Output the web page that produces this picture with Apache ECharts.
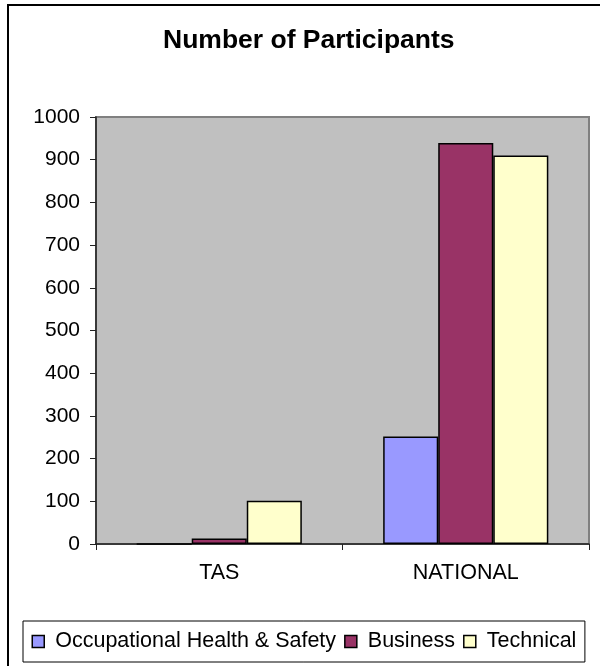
<!DOCTYPE html>
<html>
<head>
<meta charset="utf-8">
<script src="https://cdn.jsdelivr.net/npm/echarts@6/dist/echarts.min.js"></script>
<style>
  html, body { margin: 0; padding: 0; background: #fff; }
  #chart { width: 600px; height: 666px; }
</style>
</head>
<body>
<div id="chart"></div>
<script>
// Participants per program area, by region
const categories = ['TAS', 'NATIONAL'];
const seriesNames = ['Occupational Health & Safety', 'Business', 'Technical'];
const ohsValues = [0, 252];
const businessValues = [13, 939];
const technicalValues = [101, 910];
const seriesColors = ['#9999FF', '#993366', '#FFFFCC'];

const FONT = '"Liberation Sans", Arial, sans-serif';

const chart = echarts.init(document.getElementById('chart'), null, { renderer: 'canvas' });

const barStyle = (color) => ({
  color: color,
  borderColor: '#000',
  borderWidth: 1.5
});

chart.setOption({
  animation: false,
  backgroundColor: '#fff',
  title: {
    text: 'Number of Participants',
    left: 163,
    top: 27,
    padding: 0,
    textStyle: { fontFamily: FONT, fontSize: 26.5, fontWeight: 'bold', color: '#000' }
  },
  legend: {
    left: 23,
    top: 621,
    padding: [9.5, 8.5],
    itemGap: 8,
    itemWidth: 12,
    itemHeight: 12,
    borderColor: '#000',
    borderWidth: 1,
    icon: 'rect',
    data: seriesNames.map((n, i) => ({
      name: n,
      itemStyle: { color: seriesColors[i], borderColor: '#000', borderWidth: 1.5 }
    })),
    formatter: (name) => ' ' + name,
    textStyle: { fontFamily: FONT, fontSize: 21.5, lineHeight: 22, color: '#000', padding: 0 }
  },
  grid: {
    left: 96,
    right: 11,
    top: 117,
    bottom: 122,
    show: true,
    backgroundColor: '#C0C0C0',
    borderColor: '#808080',
    borderWidth: 2
  },
  xAxis: {
    type: 'category',
    data: categories,
    boundaryGap: true,
    axisLine: { show: true, lineStyle: { color: '#222', width: 1.5 } },
    axisTick: { show: true, length: 6, alignWithLabel: false, lineStyle: { color: '#222', width: 1 } },
    axisLabel: { fontFamily: FONT, fontSize: 21.5, color: '#000', margin: 18 },
    splitLine: { show: false }
  },
  yAxis: {
    type: 'value',
    min: 0,
    max: 1000,
    interval: 100,
    axisLine: { show: true, lineStyle: { color: '#222', width: 1.5 } },
    axisTick: { show: true, length: 6, lineStyle: { color: '#222', width: 1 } },
    axisLabel: {
      fontFamily: FONT, fontSize: 21, color: '#000', margin: 16,
      formatter: (v) => String(v)
    },
    splitLine: { show: false }
  },
  series: [
    { name: seriesNames[0], type: 'bar', data: ohsValues, itemStyle: barStyle(seriesColors[0]), barGap: '0%', barCategoryGap: '33%' },
    { name: seriesNames[1], type: 'bar', data: businessValues, itemStyle: barStyle(seriesColors[1]), barGap: '0%', barCategoryGap: '33%' },
    { name: seriesNames[2], type: 'bar', data: technicalValues, itemStyle: barStyle(seriesColors[2]), barGap: '0%', barCategoryGap: '33%' }
  ],
  graphic: [
    {
      type: 'rect',
      silent: true,
      z: 100,
      shape: { x: 8, y: 5, width: 620, height: 700 },
      style: { fill: null, stroke: '#000', lineWidth: 2 }
    }
  ]
});
</script>
</body>
</html>
